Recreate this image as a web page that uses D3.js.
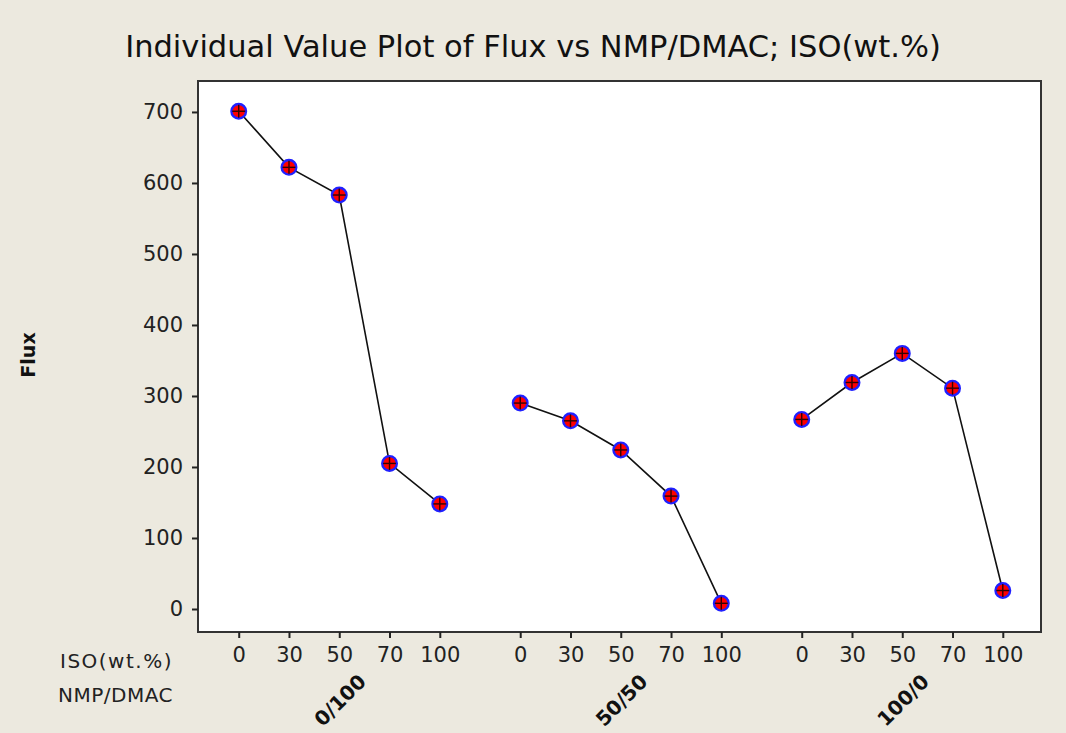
<!DOCTYPE html>
<html><head><meta charset="utf-8">
<script src="https://cdn.jsdelivr.net/npm/d3@7"></script>
<style>
html,body{margin:0;padding:0;background:#ece9df;}
svg{display:block;}
</style></head>
<body>
<svg id="c" width="1066" height="733"></svg>
<script>
const groups = ["0/100", "50/50", "100/0"];
const isoLevels = ["0", "30", "50", "70", "100"];
const fluxG1 = [701, 622, 583, 205, 148];
const fluxG2 = [290, 265, 224, 159, 8];
const fluxG3 = [267, 319, 360, 311, 26];
const yTicks = [0, 100, 200, 300, 400, 500, 600, 700];
const series = [fluxG1, fluxG2, fluxG3];

const W = 1066, H = 733;
const plot = {left: 198, right: 1041, top: 81, bottom: 632};
const groupGap = 5.6;
const svg = d3.select("#c");
svg.append("rect").attr("width", W).attr("height", H).attr("fill", "#ece9df");

const x = d3.scaleLinear().domain([-0.81, 2*groupGap + 4 + 0.76]).range([plot.left, plot.right]);
const y = d3.scaleLinear().domain([-32.4, 743.6]).range([plot.bottom, plot.top]);
const pos = (g, i) => g*groupGap + i;

svg.append("rect").attr("x", plot.left).attr("y", plot.top)
  .attr("width", plot.right - plot.left).attr("height", plot.bottom - plot.top)
  .attr("fill", "#fff").attr("stroke", "#333").attr("stroke-width", 2);

const font = "Tahoma, 'DejaVu Sans', sans-serif";

// y axis
const yAxis = d3.axisLeft(y).tickValues(yTicks).tickSize(6).tickPadding(9);
const ya = svg.append("g").attr("transform", `translate(${plot.left},0)`).call(yAxis);
ya.select(".domain").remove();
ya.selectAll("line").attr("stroke", "#222").attr("stroke-width", 2);
ya.selectAll("text").attr("font-family", font).attr("font-size", 21).attr("fill", "#222");

// x axis
const xVals = [];
groups.forEach((g, gi) => isoLevels.forEach((l, i) => xVals.push({p: pos(gi, i), l})));
const xAxis = d3.axisBottom(x).tickValues(xVals.map(d => d.p))
  .tickFormat((d, i) => xVals[i].l).tickSize(6).tickPadding(9);
const xa = svg.append("g").attr("transform", `translate(0,${plot.bottom})`).call(xAxis);
xa.select(".domain").remove();
xa.selectAll("line").attr("stroke", "#222").attr("stroke-width", 2);
xa.selectAll("text").attr("font-family", font).attr("font-size", 21).attr("fill", "#222");

// row labels
svg.append("text").attr("x", 173).attr("y", 668).attr("text-anchor", "end")
  .attr("font-family", font).attr("font-size", 20).attr("letter-spacing", 1.5).attr("fill", "#222").text("ISO(wt.%)");
svg.append("text").attr("x", 173).attr("y", 702).attr("text-anchor", "end")
  .attr("font-family", font).attr("font-size", 20).attr("letter-spacing", 0.5).attr("fill", "#222").text("NMP/DMAC");

// group labels rotated
groups.forEach((g, gi) => {
  const cx = x(pos(gi, 2)) + 28;
  svg.append("text").attr("transform", `translate(${cx},${683}) rotate(-45)`)
    .attr("text-anchor", "end").attr("font-family", font).attr("font-size", 20)
    .attr("font-weight", "bold").attr("fill", "#111").text(g);
});

// y label
svg.append("text").attr("transform", `translate(35,355) rotate(-90)`)
  .attr("text-anchor", "middle").attr("font-family", font).attr("font-size", 19)
  .attr("font-weight", "bold").attr("fill", "#111").text("Flux");

// title
svg.append("text").attr("x", 533).attr("y", 57).attr("text-anchor", "middle")
  .attr("font-family", font).attr("font-size", 30.5).attr("fill", "#111")
  .text("Individual Value Plot of Flux vs NMP/DMAC; ISO(wt.%)");

// lines and points
const line = d3.line().x(d => x(d.p)).y(d => y(d.v));
series.forEach((vals, gi) => {
  const pts = vals.map((v, i) => ({p: pos(gi, i), v}));
  svg.append("path").datum(pts).attr("d", line).attr("fill", "none")
    .attr("stroke", "#111").attr("stroke-width", 1.6);
  const g = svg.append("g");
  const m = g.selectAll("g").data(pts).join("g")
    .attr("transform", d => `translate(${x(d.p)},${y(d.v)})`);
  m.append("circle").attr("r", 7.3).attr("fill", "#ff0000").attr("stroke", "#2020ff").attr("stroke-width", 2.4);
  m.append("line").attr("x1", -6.5).attr("x2", 6.5).attr("stroke", "#300").attr("stroke-width", 1.4);
  m.append("line").attr("y1", -6.5).attr("y2", 6.5).attr("stroke", "#300").attr("stroke-width", 1.4);
});
</script>
</body></html>
